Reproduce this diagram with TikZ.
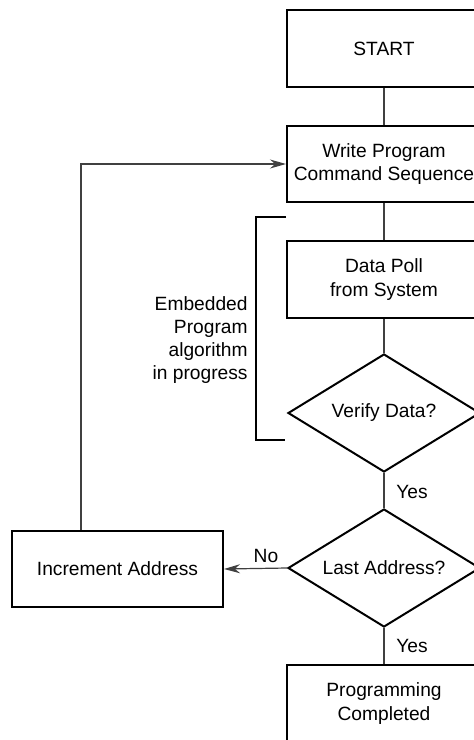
\documentclass[tikz,border=0pt]{standalone}
\usepackage{fontspec}
\setmainfont{Liberation Sans}
\usetikzlibrary{shapes.geometric,arrows.meta}
\tikzset{
  box/.style={draw=black,line width=1pt,minimum width=97pt,minimum height=38.5pt,inner sep=0pt,align=center},
  dia/.style={draw=black,line width=1pt,diamond,minimum width=96pt,minimum height=59pt,inner sep=0pt},
  conn/.style={draw=black!75,line width=0.6pt},
  arr/.style={conn,-{Stealth[length=8pt,width=4.5pt]}},
  lbl/.style={inner sep=0pt,align=right}
}
\begin{document}
\begin{tikzpicture}[x=0.5pt,y=-0.5pt,font=\fontsize{9.6}{11.6}\selectfont]
\useasboundingbox (0,0) rectangle (474,740);
\clip (0,0) rectangle (474,740);
\node[box] (start) at (384,48.5) {START};
\node[box,minimum height=38pt] (write) at (384,164) {Write Program\\Command Sequence};
\node[box] (poll) at (384,279.5) {Data Poll\\from System};
\node[dia,label={[lbl]center:Verify Data?}] (verify) at (384,413) {};
\node[dia,label={[lbl]center:Last Address?}] (last) at (384,568) {};
\node[box] (done) at (384,703.5) {Programming\\Completed};
\node[box,minimum width=105.5pt,minimum height=38pt] (inc) at (117.5,569) {Increment Address};
\node[lbl,anchor=east] (emb) at (248,340) {Embedded\\Program\\algorithm\\in progress};
\node[lbl,anchor=west] (yes1) at (396,492) {Yes};
\node[lbl,anchor=west] (yes2) at (396,646) {Yes};
\node[lbl] (no) at (266,556) {No};
\draw[conn] (start) -- (write);
\draw[conn] (write) -- (poll);
\draw[conn] (poll) -- (verify);
\draw[conn] (verify) -- (last);
\draw[conn] (last) -- (done);
\draw[arr] (last.west) -- (inc.east);
\coordinate (loop) at (81,164);
\draw[arr] (loop |- inc.north) -- (loop) -- (write.west);
\coordinate (brt) at (286,217);
\coordinate (brb) at (285,440);
\draw[black,line width=1pt] (brt) -- (256,217) -- (256,440) -- (brb);
\end{tikzpicture}
\end{document}
